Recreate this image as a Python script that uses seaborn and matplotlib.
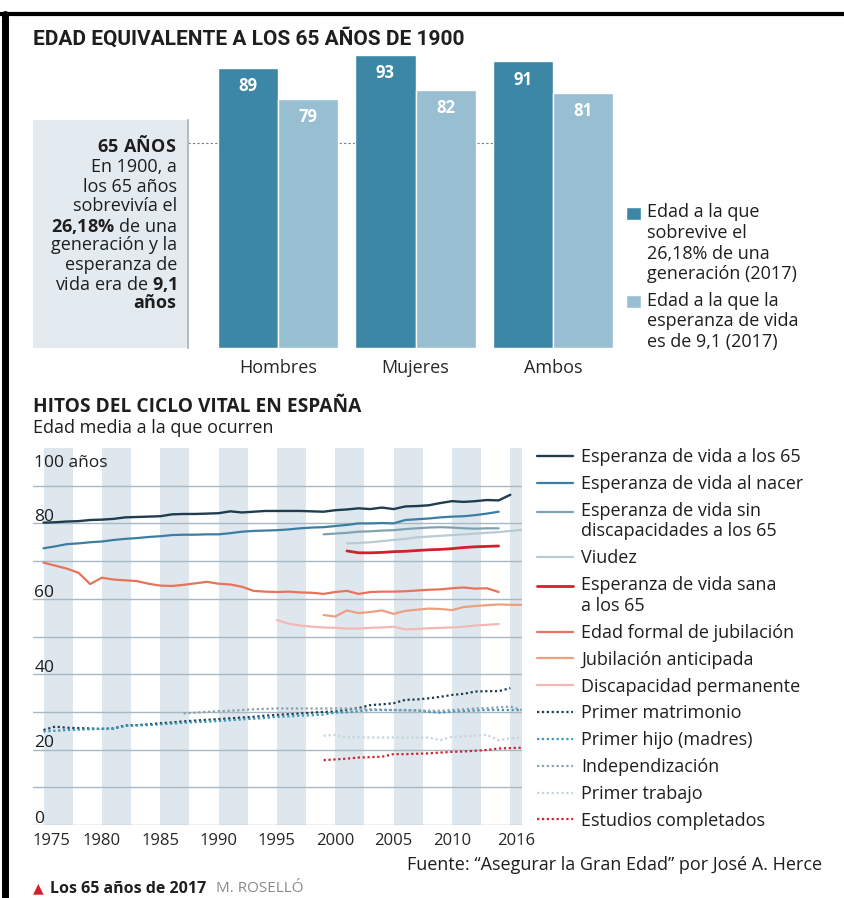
import numpy as np
import matplotlib.pyplot as plt
import matplotlib as mpl
import matplotlib.transforms as mtransforms
from matplotlib.lines import Line2D
from matplotlib.patches import Rectangle
from matplotlib.legend_handler import HandlerLine2D, HandlerPatch
import pandas as pd
import seaborn as sns

sns.set_theme(style="white")
plt.rcParams['font.family'] = ['Open Sans', 'DejaVu Sans']
plt.rcParams['mathtext.fontset'] = 'custom'
plt.rcParams['mathtext.rm'] = 'Open Sans'
plt.rcParams['mathtext.bf'] = 'Open Sans:bold'
plt.rcParams['text.color'] = '#1e1e1e'

# ---------------- data: top chart ----------------
grupos = ["Hombres", "Mujeres", "Ambos"]
edad_supervivencia = [89, 93, 91]
edad_esperanza = [79, 82, 81]
serie_sup = "Edad a la que\nsobrevive el\n26,18% de una\ngeneración (2017)"
serie_esp = "Edad a la que la\nesperanza de vida\nes de 9,1 (2017)"
edad_1900 = 65

# ---------------- data: bottom chart ----------------
anios_65 = list(range(1975, 2016))
esp_65 = [80.2, 80.3, 80.5, 80.6, 80.9, 81.0, 81.2, 81.6, 81.7, 81.8,
          81.9, 82.4, 82.5, 82.5, 82.6, 82.7, 83.2, 82.9, 83.1, 83.3,
          83.3, 83.3, 83.3, 83.2, 83.1, 83.5, 83.7, 84.0, 83.8, 84.2,
          83.8, 84.5, 84.6, 84.8, 85.4, 85.9, 85.7, 85.9, 86.2, 86.1, 87.6]
anios_nacer = list(range(1975, 2015))
esp_nacer = [73.4, 73.9, 74.5, 74.7, 75.0, 75.2, 75.6, 75.9, 76.1, 76.4,
             76.6, 76.9, 77.0, 77.0, 77.1, 77.1, 77.4, 77.8, 78.0, 78.1,
             78.2, 78.4, 78.7, 78.9, 79.0, 79.3, 79.6, 80.0, 80.0, 80.1,
             80.0, 80.9, 81.1, 81.3, 81.6, 81.8, 81.9, 82.2, 82.6, 83.1]
anios_sin_disc = list(range(1999, 2015))
esp_sin_disc = [77.1, 77.3, 77.5, 77.8, 77.9, 78.1, 78.2, 78.5, 78.7, 78.9,
                79.0, 78.9, 78.7, 78.6, 78.7, 78.7]
anios_viudez = list(range(2001, 2017))
viudez = [74.7, 74.8, 75.0, 75.3, 75.6, 75.9, 76.3, 76.5, 76.7, 76.9,
          77.1, 77.3, 77.5, 77.7, 78.0, 78.3]
anios_sana = list(range(2001, 2015))
esp_sana = [72.7, 72.2, 72.2, 72.3, 72.5, 72.6, 72.8, 73.0, 73.1, 73.3,
            73.6, 73.8, 73.9, 74.0]
anios_jub = list(range(1975, 2015))
jub_formal = [69.6, 68.8, 68.0, 66.9, 63.9, 65.6, 65.1, 64.9, 64.7, 64.0,
              63.5, 63.4, 63.7, 64.1, 64.5, 64.0, 63.8, 63.2, 62.1, 61.9,
              61.8, 61.9, 61.7, 61.6, 61.3, 61.8, 62.1, 61.3, 61.8, 61.9,
              61.9, 62.0, 62.2, 62.4, 62.5, 62.8, 63.0, 62.7, 62.8, 61.8]
anios_antic = list(range(1999, 2017))
jub_antic = [55.7, 55.3, 56.9, 56.2, 56.5, 56.9, 56.0, 56.8, 57.1, 57.4,
             57.3, 57.0, 57.8, 58.1, 58.3, 58.5, 58.4, 58.4]
anios_disc = list(range(1995, 2015))
disc_perm = [54.4, 53.4, 52.9, 52.6, 52.4, 52.3, 52.1, 52.1, 52.3, 52.4,
             52.6, 51.9, 52.0, 52.2, 52.3, 52.4, 52.6, 52.9, 53.1, 53.3]
anios_matr = list(range(1975, 2016))
matrimonio = [25.2, 26.1, 25.8, 25.7, 25.6, 25.5, 25.6, 26.4, 26.5, 26.7,
              27.0, 27.2, 27.5, 27.7, 27.9, 28.1, 28.3, 28.5, 28.7, 29.0,
              29.2, 29.4, 29.6, 29.8, 30.0, 30.1, 30.6, 31.0, 31.8, 32.0,
              32.3, 33.2, 33.3, 33.6, 34.0, 34.5, 34.8, 35.4, 35.5, 35.5, 36.3]
anios_hijo = list(range(1975, 2017))
hijo = [24.8, 25.0, 25.2, 25.3, 25.4, 25.5, 25.6, 26.3, 26.4, 26.5,
        26.7, 26.9, 27.1, 27.3, 27.4, 27.6, 27.8, 28.0, 28.2, 28.4,
        28.7, 28.8, 29.0, 29.1, 29.3, 29.8, 29.9, 30.2, 30.5, 30.5,
        30.5, 30.5, 30.4, 30.0, 29.8, 30.1, 30.2, 30.4, 30.5, 30.5, 30.5, 30.5]
anios_indep = list(range(1987, 2017))
indep = [29.6, 29.8, 30.0, 30.2, 30.3, 30.5, 30.7, 30.8, 30.9, 30.9,
         30.9, 30.9, 30.9, 30.9, 30.9, 30.8, 30.7, 30.6, 30.5, 30.4,
         30.4, 30.3, 30.3, 30.5, 30.7, 30.9, 31.0, 31.2, 31.4, 30.5]
anios_trabajo = list(range(1999, 2017))
trabajo = [23.7, 23.9, 23.2, 23.3, 23.2, 23.2, 23.2, 23.2, 23.2, 23.2,
           22.5, 23.4, 23.5, 23.7, 23.9, 22.5, 23.0, 23.2]
anios_estudios = list(range(1999, 2017))
estudios = [17.2, 17.4, 17.6, 17.9, 18.0, 18.1, 18.8, 18.8, 18.9, 19.0,
            19.2, 19.4, 19.5, 19.7, 19.9, 20.3, 20.4, 20.5]

# name, years, values, color, style, width
series = [
    ("Esperanza de vida a los 65", anios_65, esp_65, "#1f3d4e", "-", 1.7),
    ("Esperanza de vida al nacer", anios_nacer, esp_nacer, "#3a7fa3", "-", 1.6),
    ("Esperanza de vida sin\ndiscapacidades a los 65", anios_sin_disc, esp_sin_disc, "#7fa2b1", "-", 1.6),
    ("Viudez", anios_viudez, viudez, "#b9cad3", "-", 1.6),
    ("Esperanza de vida sana\na los 65", anios_sana, esp_sana, "#d4202e", "-", 2.0),
    ("Edad formal de jubilación", anios_jub, jub_formal, "#e8735b", "-", 1.6),
    ("Jubilación anticipada", anios_antic, jub_antic, "#eda081", "-", 1.6),
    ("Discapacidad permanente", anios_disc, disc_perm, "#f3b8b4", "-", 1.6),
    ("Primer matrimonio", anios_matr, matrimonio, "#1f3d4e", (0, (1, 1.2)), 1.6),
    ("Primer hijo (madres)", anios_hijo, hijo, "#3a98bf", (0, (1, 1.2)), 1.6),
    ("Independización", anios_indep, indep, "#8da1ab", (0, (1, 1.2)), 1.6),
    ("Primer trabajo", anios_trabajo, trabajo, "#c6d4db", (0, (1, 1.2)), 1.6),
    ("Estudios completados", anios_estudios, estudios, "#d4202e", (0, (1, 1.2)), 1.6),
]
xticks = [1975, 1980, 1985, 1990, 1995, 2000, 2005, 2010, 2016]
ylabels = {0: "0", 20: "20", 40: "40", 60: "60", 80: "80"}

W, H = 845, 898
LINE_PT = 14.6  # spacing of wrapped label lines, in points
fig = plt.figure(figsize=(W / 100, H / 100), dpi=100)


def fx(x):
    return x / W


def fy(y):
    return 1 - y / H


# legend handles sit on the first line of a wrapped label
class TopLine(HandlerLine2D):
    def __init__(self, nlines, **kw):
        super().__init__(**kw)
        self.shift = (nlines - 1) / 2 * LINE_PT

    def create_artists(self, legend, orig_handle, xdescent, ydescent,
                       width, height, fontsize, trans):
        arts = super().create_artists(legend, orig_handle, xdescent, ydescent,
                                      width, height, fontsize, trans)
        for a in arts:
            a.set_ydata(np.asarray(a.get_ydata()) + self.shift)
        return arts


def top_square(nlines):
    shift = (nlines - 1) / 2 * LINE_PT

    def make(legend, orig_handle, xdescent, ydescent, width, height, fontsize):
        return Rectangle((-xdescent, -ydescent + shift), width, height)
    return make


# ---------------- frame ----------------
fig.add_artist(Line2D([fx(0), fx(845)], [fy(14), fy(14)], color="black", lw=3))
fig.add_artist(Line2D([fx(5), fx(5)], [fy(14), fy(898)], color="black", lw=5))

# ---------------- top chart ----------------
fig.text(fx(33), fy(38), "EDAD EQUIVALENTE A LOS 65 AÑOS DE 1900",
         fontsize=15, weight="bold", va="center",
         family=["Roboto", "DejaVu Sans"])

fig.add_artist(Rectangle((fx(33), fy(348)), fx(188) - fx(33), (348 - 120) / H,
                         transform=fig.transFigure, color="#e4ebf0", lw=0, zorder=0))
fig.add_artist(Line2D([fx(188), fx(188)], [fy(120), fy(348)], color="#b3bcc2", lw=1.5))

ax1 = fig.add_axes([fx(188), fy(348), fx(613) - fx(188), (348 - 39.3) / H])
df_top = pd.DataFrame({
    "grupo": grupos * 2,
    "edad": edad_supervivencia + edad_esperanza,
    "serie": [serie_sup] * 3 + [serie_esp] * 3,
})
sns.barplot(data=df_top, x="grupo", y="edad", hue="serie", ax=ax1,
            palette=["#3c87a5", "#98bed2"], width=0.876, saturation=1)
ax1.axhline(edad_1900, color="#6f7c84", lw=0.8, ls=(0, (2, 2)), zorder=0.5)
ax1.set_xlim(-0.657, 2.438)
ax1.set_ylim(0, 98)
ax1.set_xlabel("")
ax1.set_ylabel("")
ax1.set_yticks([])
ax1.tick_params(axis="x", length=0, pad=8, labelsize=13)
sns.despine(ax=ax1, left=True, bottom=True)
for cont in ax1.containers:
    for p in cont:
        ax1.text(p.get_x() + p.get_width() / 2, p.get_height() - 5.8,
                 f"{p.get_height():.0f}", ha="center", va="center",
                 color="white", fontsize=12, weight="bold")
handles, labels = ax1.get_legend_handles_labels()
ax1.get_legend().remove()
hmap1 = {h: HandlerPatch(patch_func=top_square(lab.count("\n") + 1))
         for h, lab in zip(handles, labels)}
fig.legend(handles, labels, loc="upper left", bbox_to_anchor=(fx(626), fy(203)),
           bbox_transform=fig.transFigure, frameon=False, fontsize=13,
           borderpad=0, borderaxespad=0, handlelength=0.85, handleheight=0.7,
           handletextpad=0.3, labelspacing=0.45, handler_map=hmap1)

# left box text
box_lines = [
    (r"$\mathbf{65\ AÑOS}$", 146),
    ("En 1900, a", 167),
    ("los 65 años", 187),
    ("sobrevivía el", 206),
    (r"$\mathbf{26{,}18\%}$ de una", 226),
    ("generación y la", 245),
    ("esperanza de", 265),
    (r"vida era de $\mathbf{9{,}1}$", 284),
    (r"$\mathbf{años}$", 303),
]
for txt, yy in box_lines:
    fig.text(fx(177), fy(yy), txt, ha="right", va="center", fontsize=13)

# ---------------- bottom chart ----------------
fig.text(fx(33), fy(407), "HITOS DEL CICLO VITAL EN ESPAÑA",
         fontsize=13.8, weight="bold", va="center")
fig.text(fx(33), fy(428), "Edad media a la que ocurren", fontsize=13, va="center")

ax2 = fig.add_axes([fx(33), fy(825), fx(522) - fx(33), (825 - 448) / H])
ax2.set_xlim(1974.1, 2016)
ax2.set_ylim(0, 100)
for y0 in range(1975, 2016, 5):
    ax2.axvspan(y0, y0 + 2.5, color="#dee7ee", lw=0, zorder=0)
for v in range(0, 100, 10):
    ax2.axhline(v, color="#a9b9c3", lw=1, zorder=1)

for name, xs, ys, col, ls, lw in series:
    sns.lineplot(x=xs, y=ys, ax=ax2, color=col, linestyle=ls, lw=lw,
                 label=name, zorder=3)

for v, lab in ylabels.items():
    ax2.text(1974.2, v + 0.6, lab, ha="left", va="baseline", fontsize=12.5)
ax2.text(1974.2, 95.0, "100 años", ha="left", va="baseline", fontsize=12.5)

ax2.set_xticks(xticks)
ax2.set_xticklabels([str(t) for t in xticks])
ax2.set_yticks([])
ax2.tick_params(axis="x", length=0, pad=6, labelsize=12)
sns.despine(ax=ax2, left=True, bottom=True, right=True, top=True)
ax2.set_xlabel("")
ax2.set_ylabel("")
tl = ax2.get_xticklabels()
tl[0].set_transform(tl[0].get_transform() + mtransforms.ScaledTranslation(7.5 / 100, 0, fig.dpi_scale_trans))
tl[-1].set_transform(tl[-1].get_transform() + mtransforms.ScaledTranslation(-5.5 / 100, 0, fig.dpi_scale_trans))

handles2, labels2 = ax2.get_legend_handles_labels()
ax2.get_legend().remove()
hmap2 = {h: TopLine(lab.count("\n") + 1) for h, lab in zip(handles2, labels2)}
fig.legend(handles2, labels2, loc="upper left", bbox_to_anchor=(fx(537), fy(448)),
           bbox_transform=fig.transFigure, frameon=False, fontsize=13,
           borderpad=0, borderaxespad=0, handlelength=2.0, handletextpad=0.45,
           labelspacing=0.49, handler_map=hmap2)

# ---------------- footer ----------------
fig.text(fx(822), fy(865), "Fuente: “Asegurar la Gran Edad” por José A. Herce",
         ha="right", va="center", fontsize=13)
fig.text(fx(33), fy(889), "▲", color="#d4202e", fontsize=10, va="center")
fig.text(fx(50), fy(889), "Los 65 años de 2017", weight="bold", fontsize=11.5, va="center")
fig.text(fx(216), fy(889), "M. ROSELLÓ", color="#8a8a8a", fontsize=11, va="center")

fig.savefig("out.png", dpi=100)
